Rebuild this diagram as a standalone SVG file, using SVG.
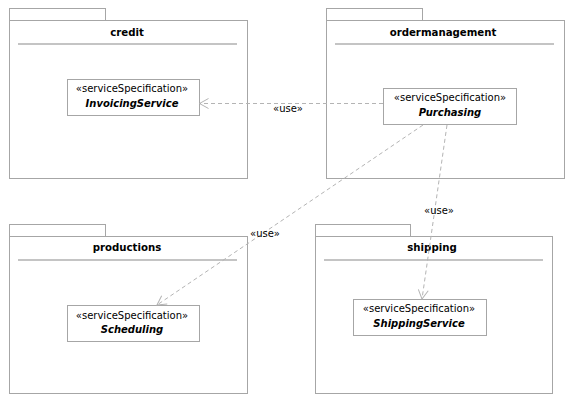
<svg xmlns="http://www.w3.org/2000/svg" width="572" height="402" viewBox="0 0 572 402">
<style>
.pk{fill:#fff;stroke:#a6a6a6;stroke-width:1}
.sep{stroke:#b0b0b0;stroke-width:1.5}
.cls{fill:#fff;stroke:#a6a6a6;stroke-width:1}
.title{font-family:"DejaVu Sans",Tahoma,sans-serif;font-weight:bold;font-size:10.2px;fill:#000;text-anchor:middle}
.st{font-family:"DejaVu Sans",Tahoma,sans-serif;font-size:10px;fill:#000;text-anchor:middle}
.nm{font-family:"DejaVu Sans",Tahoma,sans-serif;font-size:10px;font-weight:bold;font-style:italic;fill:#000;text-anchor:middle}
.dep{stroke:#b4b4b4;stroke-width:1;stroke-dasharray:4,3;fill:none}
.lbl{font-family:"DejaVu Sans",Tahoma,sans-serif;font-size:10px;fill:#000;text-anchor:middle}
</style>
<defs>
<marker id="open" markerUnits="userSpaceOnUse" markerWidth="14" markerHeight="14" refX="10" refY="6" orient="auto">
<path d="M1,1 L10,6 L1,11" fill="none" stroke="#b4b4b4" stroke-width="1"/>
</marker>
</defs>
<rect width="572" height="402" fill="#fff"/>

<g id="credit">
<rect class="pk" x="9.5" y="8.5" width="96" height="12"/>
<rect class="pk" x="9.5" y="20.5" width="238" height="158"/>
<line class="sep" x1="18" y1="44" x2="237" y2="44"/>
<text class="title" x="127" y="36">credit</text>
</g>
<g id="InvoicingService">
<rect class="cls" x="67.5" y="79.5" width="132" height="36"/>
<text class="st" x="132" y="92">«serviceSpecification»</text>
<text class="nm" x="132" y="107">InvoicingService</text>
</g>

<g id="ordermanagement">
<rect class="pk" x="326.5" y="8.5" width="96" height="12"/>
<rect class="pk" x="326.5" y="20.5" width="238" height="158"/>
<line class="sep" x1="335" y1="44" x2="554" y2="44"/>
<text class="title" x="443" y="36">ordermanagement</text>
</g>
<g id="Purchasing">
<rect class="cls" x="383.5" y="88.5" width="133" height="36"/>
<text class="st" x="450" y="101">«serviceSpecification»</text>
<text class="nm" x="450" y="116">Purchasing</text>
</g>

<g id="productions">
<rect class="pk" x="9.5" y="224.5" width="96" height="12"/>
<rect class="pk" x="9.5" y="236.5" width="238" height="157"/>
<line class="sep" x1="18" y1="260" x2="237" y2="260"/>
<text class="title" x="127" y="251">productions</text>
</g>
<g id="Scheduling">
<rect class="cls" x="67.5" y="305.5" width="132" height="36"/>
<text class="st" x="132" y="319">«serviceSpecification»</text>
<text class="nm" x="132" y="333">Scheduling</text>
</g>

<g id="shipping">
<rect class="pk" x="315.5" y="224.5" width="95" height="12"/>
<rect class="pk" x="315.5" y="236.5" width="237" height="157"/>
<line class="sep" x1="324" y1="260" x2="543" y2="260"/>
<text class="title" x="432" y="251">shipping</text>
</g>
<g id="ShippingService">
<rect class="cls" x="353.5" y="299.5" width="133" height="36"/>
<text class="st" x="419" y="312">«serviceSpecification»</text>
<text class="nm" x="419" y="327">ShippingService</text>
</g>

<g id="connectors">
<line class="dep" x1="383" y1="103.5" x2="199.5" y2="103.5" marker-end="url(#open)"/>
<text class="lbl" x="288" y="112">«use»</text>
<line class="dep" x1="423" y1="125" x2="157" y2="305" marker-end="url(#open)"/>
<text class="lbl" x="265" y="237">«use»</text>
<line class="dep" x1="447" y1="125" x2="422" y2="299" marker-end="url(#open)"/>
<text class="lbl" x="439" y="214">«use»</text>
</g>
</svg>
